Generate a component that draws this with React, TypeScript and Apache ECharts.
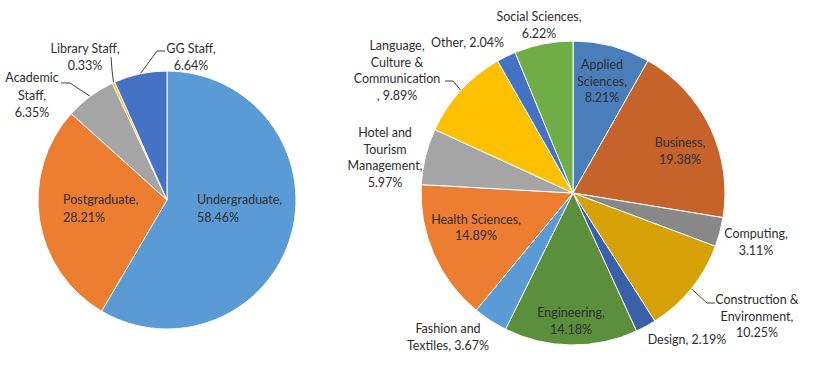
import { useEffect, useRef } from "react";
import * as echarts from "echarts";

// ---------- data ----------
const LEFT_NAMES = ["Undergraduate", "Postgraduate", "Academic Staff", "Library Staff", "GG Staff"];
const LEFT_VALUES = [58.46, 28.21, 6.35, 0.33, 6.64];
const LEFT_LABELS = [
  "Undergraduate,\n58.46%",
  "Postgraduate,\n28.21%",
  "Academic\nStaff,\n6.35%",
  "Library Staff,\n0.33%",
  "GG Staff,\n6.64%",
];

const RIGHT_NAMES = [
  "Applied Sciences", "Business", "Computing", "Construction & Environment", "Design",
  "Engineering", "Fashion and Textiles", "Health Sciences", "Hotel and Tourism Management",
  "Language, Culture & Communication", "Other", "Social Sciences",
];
const RIGHT_VALUES = [8.21, 19.38, 3.11, 10.25, 2.19, 14.18, 3.67, 14.89, 5.97, 9.89, 2.04, 6.22];
const RIGHT_LABELS = [
  "Applied\nSciences,\n8.21%",
  "Business,\n19.38%",
  "Computing,\n3.11%",
  "Construction &\nEnvironment,\n10.25%",
  "Design, 2.19%",
  "Engineering,\n14.18%",
  "Fashion and\nTextiles, 3.67%",
  "Health Sciences,\n14.89%",
  "Hotel and\nTourism\nManagement,\n5.97%",
  "Language,\nCulture &\nCommunication\n, 9.89%",
  "Other, 2.04%",
  "Social Sciences,\n6.22%",
];

// ---------- styles / layout ----------
const LEFT_COLORS = ["#5B9BD5", "#ED7D31", "#A5A5A5", "#FFC000", "#4472C4"];
const RIGHT_COLORS = [
  "#4A7EBB", "#C5632A", "#888888", "#D5A106", "#3A60A8", "#5B8F3C",
  "#5B9BD5", "#ED7D31", "#A5A5A5", "#FFC000", "#4472C4", "#70AD47",
];

const LC: [number, number] = [167, 200];
const LR = 129;
const RC: [number, number] = [573, 193];
const RR = 152;

type LabelPos = { dx: number; dy: number; align: "left" | "center"; line?: number[][] };

// label anchor offsets relative to pie centre
const LEFT_POS: LabelPos[] = [
  { dx: 30, dy: 8.5, align: "left" },
  { dx: -104, dy: 8.5, align: "left" },
  { dx: -135, dy: -105, align: "center", line: [[-97, -117], [-106, -117]] },
  { dx: -82, dy: -143, align: "center", line: [[-55, -130], [-56, -143]] },
  { dx: 24, dy: -143, align: "center", line: [[-10, -149], [-2, -149]] },
];
const RIGHT_POS: LabelPos[] = [
  { dx: 29, dy: -112, align: "center" },
  { dx: 107, dy: -42, align: "center" },
  { dx: 183, dy: 49, align: "center" },
  { dx: 184, dy: 123, align: "center", line: [[134, 110], [142, 110]] },
  { dx: 114, dy: 146, align: "center" },
  { dx: -2, dy: 128, align: "center" },
  { dx: -125, dy: 144, align: "center" },
  { dx: -97, dy: 34.5, align: "center" },
  { dx: -188, dy: -35.5, align: "center" },
  { dx: -176, dy: -122.5, align: "center", line: [[-120, -112], [-128, -112]] },
  { dx: -105.5, dy: -151, align: "center" },
  { dx: -34, dy: -168, align: "center" },
];

const FONT = "Lato, Calibri, 'Open Sans', sans-serif";
const TEXT_COLOR = "#2e2e2e";

function edgePoint(c: [number, number], r: number, values: number[], i: number) {
  const total = values.reduce((a, b) => a + b, 0);
  let cum = 0;
  for (let k = 0; k < i; k++) cum += values[k];
  const frac = (cum + values[i] / 2) / total;
  const th = frac * Math.PI * 2;
  return [c[0] + r * Math.sin(th), c[1] - r * Math.cos(th)];
}

function makeSeries(
  names: string[], values: number[], labels: string[], colors: string[],
  pos: LabelPos[], c: [number, number], r: number, lineHeight: number
) {
  return {
    type: "pie",
    center: c,
    radius: r,
    startAngle: 90,
    clockwise: true,
    avoidLabelOverlap: false,
    itemStyle: { borderColor: "#ffffff", borderWidth: 1 },
    label: {
      show: true,
      position: "outside",
      fontFamily: FONT,
      fontSize: 12.5,
      lineHeight,
      color: TEXT_COLOR,
    },
    labelLine: { show: false, lineStyle: { color: "#404040", width: 1 } },
    emphasis: { disabled: true },
    data: names.map((n, i) => ({
      name: n,
      value: values[i],
      itemStyle: { color: colors[i] },
      label: { formatter: labels[i], align: pos[i].align },
      labelLine: { show: !!pos[i].line, lineStyle: { color: "#404040", width: 1 } },
    })),
    labelLayout: (p: any) => {
      const i = p.dataIndex;
      const L = pos[i];
      const res: any = {
        x: c[0] + L.dx,
        y: c[1] + L.dy,
        align: L.align,
        verticalAlign: "middle",
      };
      if (L.line) {
        res.labelLinePoints = [
          edgePoint(c, r, values, i),
          [c[0] + L.line[0][0], c[1] + L.line[0][1]],
          [c[0] + L.line[1][0], c[1] + L.line[1][1]],
        ];
      }
      return res;
    },
  };
}

export default function App() {
  const ref = useRef<HTMLDivElement>(null);
  useEffect(() => {
    document.body.style.margin = "0";
    if (!ref.current) return;
    const chart = echarts.init(ref.current, undefined, { renderer: "svg" });
    chart.setOption({
      animation: false,
      backgroundColor: "#ffffff",
      series: [
        makeSeries(LEFT_NAMES, LEFT_VALUES, LEFT_LABELS, LEFT_COLORS, LEFT_POS, LC, LR, 17.5),
        makeSeries(RIGHT_NAMES, RIGHT_VALUES, RIGHT_LABELS, RIGHT_COLORS, RIGHT_POS, RC, RR, 16.5),
      ],
    });
    return () => chart.dispose();
  }, []);
  return <div ref={ref} style={{ width: 813, height: 385 }} />;
}
